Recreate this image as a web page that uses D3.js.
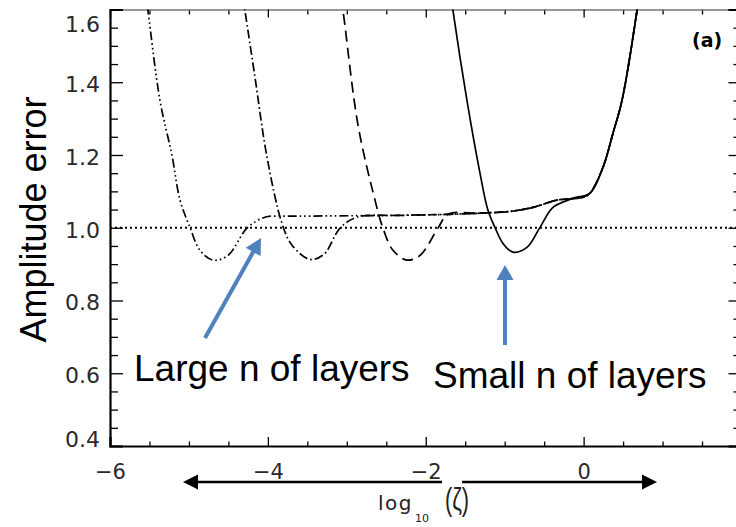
<!DOCTYPE html>
<html><head><meta charset="utf-8">
<script src="https://cdn.jsdelivr.net/npm/d3@7"></script>
<style>body{margin:0;background:#fff}svg{display:block;background:#fff}</style>
</head><body><svg id="c" width="736" height="527"></svg>
<script>
// ---- data: [log10(zeta), amplitude error] ----
const xTicks = [-6, -4, -2, 0, 2];
const yTicks = [0.4, 0.6, 0.8, 1.0, 1.2, 1.4, 1.6];
const referenceLevel = 1.0;

// common plateau + steep rise shared on the right
const sharedTail = [
  [-2.326, 1.034], [-1.693, 1.037], [-1.313, 1.040], [-0.933, 1.045],
  [-0.642, 1.056], [-0.337, 1.076], [-0.008, 1.084], [0.081, 1.095],
  [0.245, 1.166], [0.372, 1.260], [0.486, 1.350], [0.676, 1.597], [0.727, 1.680]
];
const curveLargestN = [
  [-5.569, 1.680], [-5.519, 1.597], [-5.367, 1.350], [-5.215, 1.199],
  [-5.113, 1.076], [-4.987, 1.001], [-4.860, 0.938], [-4.695, 0.911],
  [-4.505, 0.924], [-4.264, 0.999], [-4.036, 1.029], [-3.808, 1.032],
  [-3.593, 1.032], [-2.960, 1.033]
].concat(sharedTail);
const curveLargeN = [
  [-4.347, 1.680], [-4.290, 1.597], [-4.163, 1.413], [-4.011, 1.194],
  [-3.821, 1.012], [-3.694, 0.952], [-3.466, 0.913], [-3.289, 0.927],
  [-3.086, 0.999], [-2.871, 1.029]
].concat(sharedTail);
const curveMediumN = [
  [-3.105, 1.680], [-3.048, 1.597], [-2.858, 1.282], [-2.643, 1.076],
  [-2.542, 0.999], [-2.415, 0.938], [-2.238, 0.911], [-2.073, 0.924],
  [-1.845, 0.999], [-1.718, 1.037]
].concat(sharedTail.slice(2));
const curveSmallN = [
  [-1.706, 1.680], [-1.655, 1.597], [-1.478, 1.350], [-1.313, 1.150],
  [-1.212, 1.048], [-1.123, 1.001], [-1.022, 0.957], [-0.895, 0.933],
  [-0.718, 0.946], [-0.553, 1.001], [-0.388, 1.056], [-0.135, 1.081],
  [0.081, 1.095], [0.245, 1.166], [0.372, 1.260], [0.486, 1.350],
  [0.676, 1.597], [0.727, 1.680]
];
const series = [
  {name: "largest n", data: curveLargestN, dash: "9,3,1.6,3,1.6,3,1.6,3"},
  {name: "large n", data: curveLargeN, dash: "9,3,1.6,3"},
  {name: "medium n", data: curveMediumN, dash: "11,6"},
  {name: "small n", data: curveSmallN, dash: null}
];

// ---- layout ----
const svg = d3.select("#c");
const L = 110, R = 741.5, T = 9.5, B = 446;
const x = d3.scaleLinear().domain([-6, 2]).range([L, R]);
const y = d3.scaleLinear().domain([0.4, 1.6]).range([B, T]);

svg.append("defs").append("clipPath").attr("id", "plot")
  .append("rect").attr("x", L).attr("y", T).attr("width", R - L).attr("height", B - T);

const minorX = d3.range(-6, 2.01, 0.5).filter(v => Math.abs(v / 2 - Math.round(v / 2)) > 1e-6);
const minorY = d3.range(0.4, 1.601, 0.05).map(v => +v.toFixed(2)).filter(v => !yTicks.some(t => Math.abs(t - v) < 1e-6));

function styleAxis(g, w, col) {
  g.select(".domain").attr("stroke", col || "#000").attr("stroke-width", w);
  g.selectAll(".tick line").attr("stroke", "#000").attr("stroke-width", 1.3);
}
function minorStyle(g) {
  g.select(".domain").remove();
  g.selectAll(".tick line").attr("stroke", "#000").attr("stroke-width", 1.3);
}

// minor ticks
svg.append("g").attr("transform", `translate(${L},0)`)
  .call(d3.axisLeft(y).tickValues(minorY).tickSize(-8).tickFormat("")).call(minorStyle);
svg.append("g").attr("transform", `translate(${R},0)`)
  .call(d3.axisRight(y).tickValues(minorY).tickSize(-8).tickFormat("")).call(minorStyle);
svg.append("g").attr("transform", `translate(0,${B})`)
  .call(d3.axisBottom(x).tickValues(minorX).tickSize(-4.5).tickFormat("")).call(minorStyle);
svg.append("g").attr("transform", `translate(0,${T})`)
  .call(d3.axisTop(x).tickValues(minorX).tickSize(-5).tickFormat("")).call(minorStyle);

// major axes
svg.append("g").attr("transform", `translate(0,${T})`)
  .call(d3.axisTop(x).tickValues(xTicks).tickSize(-8).tickFormat(""))
  .call(g => styleAxis(g, 1.3, "#777"));
svg.append("g").attr("transform", `translate(${R},0)`)
  .call(d3.axisRight(y).tickValues(yTicks).tickSize(-13).tickFormat(""))
  .call(g => styleAxis(g, 2));

const yAx = svg.append("g").attr("transform", `translate(${L},0)`)
  .call(d3.axisLeft(y).tickValues(yTicks).tickSize(-13).tickPadding(10).tickFormat(d3.format(".1f")))
  .call(g => styleAxis(g, 2.2));
yAx.selectAll(".tick text")
  .attr("font-family", "DejaVu Sans").attr("font-size", 22).attr("fill", "#2a2a2a")
  .attr("dy", d => d === 1.6 ? "1.0em" : d === 0.4 ? "0.0em" : "0.42em");

const xAx = svg.append("g").attr("transform", `translate(0,${B})`)
  .call(d3.axisBottom(x).tickValues(xTicks).tickSize(-9).tickPadding(18).tickFormat(d3.format("d")))
  .call(g => styleAxis(g, 2.2));
xAx.selectAll(".tick text")
  .attr("font-family", "DejaVu Sans").attr("font-size", 21).attr("fill", "#2a2a2a");

// reference line
svg.append("line").attr("clip-path", "url(#plot)")
  .attr("x1", L).attr("x2", R).attr("y1", y(referenceLevel)).attr("y2", y(referenceLevel))
  .attr("stroke", "#000").attr("stroke-width", 2).attr("stroke-dasharray", "2,3");

// curves
const line = d3.line().x(d => x(d[0])).y(d => y(d[1])).curve(d3.curveCatmullRom.alpha(0.5));
svg.append("g").attr("clip-path", "url(#plot)")
  .selectAll("path").data(series).join("path")
  .attr("d", s => line(s.data))
  .attr("fill", "none").attr("stroke", "#000").attr("stroke-width", 1.7)
  .attr("stroke-dasharray", s => s.dash);

// panel label
svg.append("text").attr("x", 692).attr("y", 47)
  .attr("font-family", "DejaVu Sans").attr("font-weight", "bold").attr("font-size", 19)
  .text("(a)");

// y axis title
svg.append("text").attr("transform", "translate(46,219.5) rotate(-90)")
  .attr("text-anchor", "middle").attr("font-family", "Liberation Sans, Arial").attr("font-size", 36)
  .text("Amplitude error");

// annotations
const ann = svg.append("g").attr("font-family", "Liberation Sans, Arial").attr("font-size", 37).attr("fill", "#000");
ann.append("text").attr("x", 134).attr("y", 381).text("Large n of layers");
ann.append("text").attr("x", 433).attr("y", 388).text("Small n of layers");

// arrows
const blue = "#4F81BD";
function arrow(x1, y1, x2, y2, col, w, hl, hw) {
  const a = Math.atan2(y2 - y1, x2 - x1);
  const bx = x2 - hl * Math.cos(a), by = y2 - hl * Math.sin(a);
  svg.append("line").attr("x1", x1).attr("y1", y1).attr("x2", bx + Math.cos(a)).attr("y2", by + Math.sin(a))
    .attr("stroke", col).attr("stroke-width", w);
  const px = -Math.sin(a) * hw / 2, py = Math.cos(a) * hw / 2;
  svg.append("polygon").attr("points", `${x2},${y2} ${bx + px},${by + py} ${bx - px},${by - py}`).attr("fill", col);
}
arrow(205, 338, 261, 238, blue, 4, 16, 17);
arrow(505, 345, 505, 265, blue, 4, 15, 17);

// x-axis double arrow (two halves around the title)
arrow(442, 482, 183, 482, "#000", 2.5, 15, 15);
arrow(462, 482, 657, 482, "#000", 2.5, 15, 15);

// x axis title
const xt = svg.append("text").attr("x", 378).attr("y", 510).attr("fill", "#222");
xt.append("tspan").attr("font-family", "DejaVu Sans").attr("font-size", 20).attr("letter-spacing", 1.5).text("log");
xt.append("tspan").attr("font-family", "DejaVu Sans").attr("font-size", 11).attr("dy", 12).attr("dx", 2).text("10");
xt.append("tspan").attr("font-family", "Liberation Sans, Arial").attr("font-size", 31)
  .attr("x", 445).attr("dy", -12).attr("textLength", 24).attr("lengthAdjust", "spacingAndGlyphs").text("(ζ)");
</script></body></html>
